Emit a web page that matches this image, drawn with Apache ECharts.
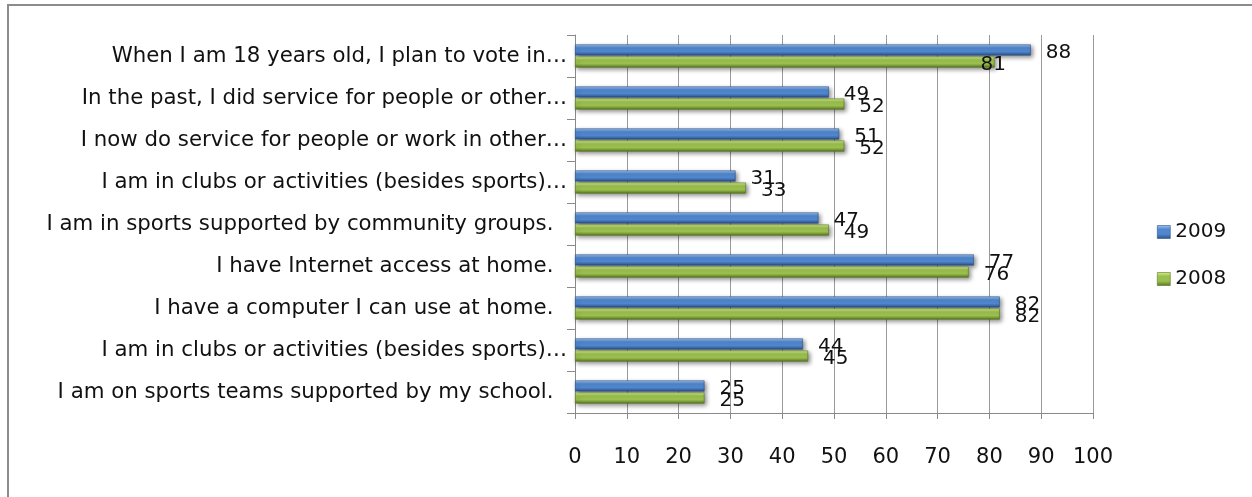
<!DOCTYPE html>
<html>
<head>
<meta charset="utf-8">
<script src="https://cdn.jsdelivr.net/npm/echarts@6/dist/echarts.min.js"></script>
<style>
  html, body { margin: 0; padding: 0; background: #ffffff; }
  #chart { width: 1252px; height: 497px; }
</style>
</head>
<body>
<div id="chart"></div>
<script>
// Survey statements, listed top to bottom
const categories = [
  'When I am 18 years old, I plan to vote in\u2026',
  'In the past, I did service for people or other\u2026',
  'I now do service for people or work in other\u2026',
  'I am in clubs or activities (besides sports)\u2026',
  'I am in sports supported by community groups.  ',
  'I have Internet access at home.  ',
  'I have a computer I can use at home.  ',
  'I am in clubs or activities (besides sports)\u2026',
  'I am on sports teams supported by my school.  '
];
const values2009 = [88, 49, 51, 31, 47, 77, 82, 44, 25];
const values2008 = [81, 52, 52, 33, 49, 76, 82, 45, 25];
const seriesNames = ['2009', '2008'];

const FONT = 'DejaVu Sans';
const TEXT = '#111111';

function bevel(top, mid, bottom) {
  return {
    type: 'linear', x: 0, y: 0, x2: 0, y2: 1,
    colorStops: [
      { offset: 0, color: top },
      { offset: 0.3, color: mid },
      { offset: 0.65, color: mid },
      { offset: 1, color: bottom }
    ]
  };
}

const blueFill = bevel('#a4c6f0', '#5087cf', '#2c5286');
const greenFill = bevel('#d6f091', '#9cc04f', '#587520');

// the 81 label sits back over the bar end
function withLabels(values, tweak) {
  return values.map((v, i) => {
    const t = tweak[i];
    return t ? { value: v, label: { offset: t } } : v;
  });
}

function barSeries(name, values, fill, edge, tweak) {
  return {
    name: name,
    type: 'bar',
    data: withLabels(values, tweak || {}),
    barWidth: 11,
    barGap: '10%',
    itemStyle: {
      color: fill,
      borderColor: edge,
      borderWidth: 0.6,
      shadowColor: 'rgba(0,0,0,0.45)',
      shadowBlur: 4,
      shadowOffsetX: 2,
      shadowOffsetY: 2
    },
    label: {
      show: true,
      position: 'right',
      distance: 15,
      offset: [0, 3],
      fontFamily: FONT,
      fontSize: 20,
      color: TEXT
    }
  };
}

const chart = echarts.init(document.getElementById('chart'), null, { renderer: 'canvas' });

chart.setOption({
  animation: false,
  backgroundColor: '#ffffff',
  graphic: [{
    type: 'rect',
    shape: { x: 8, y: 5, width: 1400, height: 700 },
    style: { fill: 'none', stroke: '#8c8c8c', lineWidth: 2 },
    silent: true
  }],
  grid: { left: 575, right: 159, top: 35, bottom: 84, containLabel: false },
  legend: {
    orient: 'vertical',
    left: 1152,
    top: 217,
    itemWidth: 13,
    itemHeight: 13,
    itemGap: 27,
    icon: 'rect',
    data: [
      { name: seriesNames[0], itemStyle: { color: blueFill, borderColor: '#2c5286', borderWidth: 0.6 } },
      { name: seriesNames[1], itemStyle: { color: greenFill, borderColor: '#587520', borderWidth: 0.6 } }
    ],
    textStyle: { fontFamily: FONT, fontSize: 20, color: TEXT }
  },
  xAxis: {
    type: 'value',
    min: 0,
    max: 100,
    interval: 10,
    axisLine: { show: true, lineStyle: { color: '#8a8a8a', width: 1 } },
    axisTick: { show: true, length: 6, lineStyle: { color: '#8a8a8a' } },
    splitLine: { show: true, lineStyle: { color: '#9a9a9a', width: 1 } },
    axisLabel: { margin: 34, fontFamily: FONT, fontSize: 21, color: TEXT }
  },
  yAxis: {
    type: 'category',
    inverse: true,
    data: categories,
    axisLine: { show: true, lineStyle: { color: '#8a8a8a', width: 1 } },
    axisTick: { show: true, length: 8, lineStyle: { color: '#8a8a8a' } },
    axisLabel: { margin: 8, fontFamily: FONT, fontSize: 21.3, color: TEXT }
  },
  series: [
    barSeries(seriesNames[0], values2009, blueFill, '#2c5286'),
    barSeries(seriesNames[1], values2008, greenFill, '#587520', { 0: [-29, 3] })
  ]
});
</script>
</body>
</html>
